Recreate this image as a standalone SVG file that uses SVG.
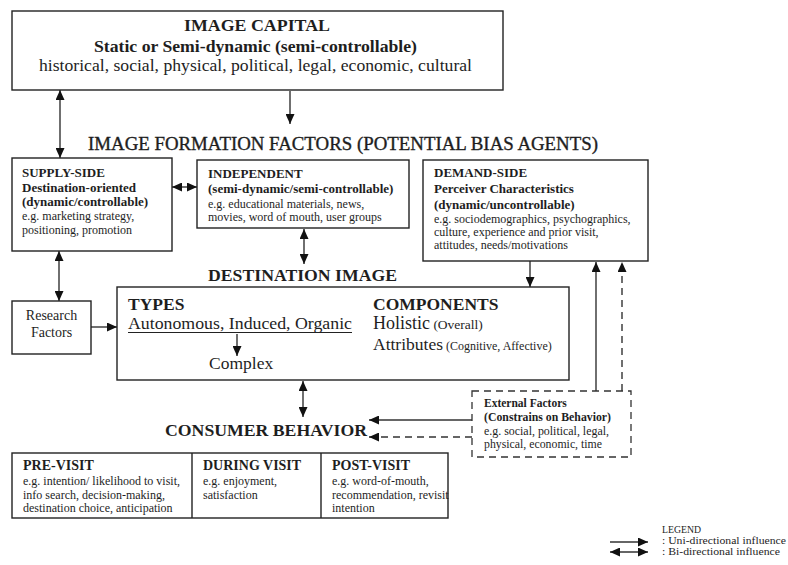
<svg xmlns="http://www.w3.org/2000/svg" width="788" height="565" viewBox="0 0 788 565">
<style>
  text { font-family: "Liberation Serif", "Times New Roman", serif; fill: #1e1e1e; }
  .box { fill: none; stroke: #222; stroke-width: 1.4; }
  .dbox { fill: none; stroke: #333; stroke-width: 1.3; stroke-dasharray: 7 5; }
  .ln { fill: none; stroke: #333; stroke-width: 1.4; }
  .dash { stroke-dasharray: 7 5; }
  .uni { marker-end: url(#ah); }
  .bi { marker-start: url(#ah); marker-end: url(#ah); }
  .b { font-weight: bold; }
  .h13 { font-size: 13px; font-weight: bold; }
  .t12 { font-size: 12px; }
  .h11 { font-size: 11.5px; font-weight: bold; }
  .t11 { font-size: 11.5px; }
  .h14 { font-size: 14px; font-weight: bold; }
  .big { font-size: 17.5px; }
  .lg { font-size: 10px; }
</style>
<defs>
  <marker id="ah" viewBox="0 0 10 9" refX="10" refY="4.5" markerWidth="10" markerHeight="9" markerUnits="userSpaceOnUse" orient="auto-start-reverse">
    <path d="M0,0 L10,4.5 L0,9 z" fill="#111"/>
  </marker>
</defs>
<rect width="788" height="565" fill="#fff"/>

<g id="connectors">
  <line class="ln bi" x1="60" y1="90" x2="60" y2="158"/>
  <line class="ln uni" x1="290" y1="91" x2="290" y2="124"/>
  <line class="ln bi" x1="172" y1="187" x2="197" y2="187"/>
  <line class="ln bi" x1="304" y1="229" x2="304" y2="264"/>
  <line class="ln bi" x1="59" y1="251" x2="59" y2="301"/>
  <line class="ln uni" x1="91" y1="327" x2="117" y2="327"/>
  <line class="ln uni" x1="530" y1="261" x2="530" y2="287"/>
  <line class="ln uni" x1="596" y1="391" x2="596" y2="262"/>
  <line class="ln dash uni" x1="622" y1="391" x2="622" y2="262"/>
  <line class="ln uni" x1="237" y1="334" x2="237" y2="356"/>
  <line class="ln bi" x1="303" y1="381" x2="303" y2="417"/>
  <line class="ln uni" x1="472" y1="420" x2="369" y2="420"/>
  <line class="ln dash uni" x1="472" y1="437" x2="369" y2="437"/>
</g>

<g id="image-capital">
  <rect class="box" x="12" y="11" width="491" height="79"/>
  <text class="b" x="257" y="31" font-size="17" text-anchor="middle" textLength="146" lengthAdjust="spacingAndGlyphs">IMAGE CAPITAL</text>
  <text class="b" x="255.5" y="52" font-size="17" text-anchor="middle" textLength="323" lengthAdjust="spacingAndGlyphs">Static or Semi-dynamic (semi-controllable)</text>
  <text x="255.5" y="71" font-size="17.5" text-anchor="middle" textLength="433" lengthAdjust="spacingAndGlyphs">historical, social, physical, political, legal, economic, cultural</text>
</g>

<g id="image-formation-title">
  <text x="88" y="150" font-size="19" stroke="#1e1e1e" stroke-width="0.35" textLength="510" lengthAdjust="spacingAndGlyphs">IMAGE FORMATION FACTORS (POTENTIAL BIAS AGENTS)</text>
</g>

<g id="supply-side">
  <rect class="box" x="12" y="158" width="160" height="93"/>
  <text class="h13" x="22" y="177">SUPPLY-SIDE</text>
  <text class="h13" x="22" y="192">Destination-oriented</text>
  <text class="h13" x="22" y="206">(dynamic/controllable)</text>
  <text class="t12" x="22" y="220">e.g. marketing strategy,</text>
  <text class="t12" x="22" y="234">positioning, promotion</text>
</g>

<g id="independent">
  <rect class="box" x="197" y="160" width="212" height="68"/>
  <text class="h13" x="208" y="178">INDEPENDENT</text>
  <text class="h13" x="208" y="193">(semi-dynamic/semi-controllable)</text>
  <text class="t12" x="208" y="208">e.g. educational materials, news,</text>
  <text class="t12" x="208" y="221">movies, word of mouth, user groups</text>
</g>

<g id="demand-side">
  <rect class="box" x="423" y="160" width="225" height="101"/>
  <text class="h13" x="434" y="177">DEMAND-SIDE</text>
  <text class="h13" x="434" y="193">Perceiver Characteristics</text>
  <text class="h13" x="434" y="209">(dynamic/uncontrollable)</text>
  <text class="t12" x="434" y="223">e.g. sociodemographics, psychographics,</text>
  <text class="t12" x="434" y="236">culture, experience and prior visit,</text>
  <text class="t12" x="434" y="249">attitudes, needs/motivations</text>
</g>

<g id="research-factors">
  <rect class="box" x="12" y="301" width="79" height="53"/>
  <text x="51.5" y="320" font-size="14" text-anchor="middle">Research</text>
  <text x="51.5" y="337" font-size="14" text-anchor="middle">Factors</text>
</g>

<g id="destination-image">
  <text class="b" x="208" y="281" font-size="16.5" textLength="189" lengthAdjust="spacingAndGlyphs">DESTINATION IMAGE</text>
  <rect class="box" x="117" y="287" width="452" height="93"/>
  <text class="b big" x="128" y="310">TYPES</text>
  <text class="big" x="128" y="329" textLength="224" lengthAdjust="spacingAndGlyphs">Autonomous, Induced, Organic</text>
  <line x1="128" y1="332.5" x2="352" y2="332.5" stroke="#222" stroke-width="1.1"/>
  <text class="big" x="209" y="369">Complex</text>
  <text class="b big" x="373" y="310">COMPONENTS</text>
  <text x="373" y="329"><tspan font-size="18">Holistic</tspan><tspan font-size="13.5"> (Overall)</tspan></text>
  <text x="373" y="350"><tspan font-size="17.5">Attributes</tspan><tspan font-size="12"> (Cognitive, Affective)</tspan></text>
</g>

<g id="external-factors">
  <rect class="dbox" x="472" y="391" width="159" height="66"/>
  <text class="h11" x="484" y="407">External Factors</text>
  <text class="h11" x="484" y="421" textLength="127" lengthAdjust="spacingAndGlyphs">(Constrains on Behavior)</text>
  <text class="t11" x="484" y="435" textLength="125" lengthAdjust="spacingAndGlyphs">e.g. social, political,  legal,</text>
  <text class="t11" x="484" y="448" textLength="118" lengthAdjust="spacingAndGlyphs">physical, economic, time</text>
</g>

<g id="consumer-behavior">
  <text class="b" x="165" y="436" font-size="17.5" textLength="202" lengthAdjust="spacingAndGlyphs">CONSUMER BEHAVIOR</text>
  <rect class="box" x="12" y="453" width="436" height="65"/>
  <line x1="192" y1="453" x2="192" y2="518" stroke="#222" stroke-width="1.4"/>
  <line x1="321" y1="453" x2="321" y2="518" stroke="#222" stroke-width="1.4"/>
</g>

<g id="pre-visit">
  <text class="h14" x="23" y="470">PRE-VISIT</text>
  <text class="t12" x="23" y="485">e.g. intention/ likelihood  to visit,</text>
  <text class="t12" x="23" y="498.5">info search, decision-making,</text>
  <text class="t12" x="23" y="512">destination choice, anticipation</text>
</g>

<g id="during-visit">
  <text class="h14" x="203" y="470">DURING VISIT</text>
  <text class="t12" x="203" y="485">e.g. enjoyment,</text>
  <text class="t12" x="203" y="498.5">satisfaction</text>
</g>

<g id="post-visit">
  <text class="h14" x="332" y="470">POST-VISIT</text>
  <text class="t12" x="332" y="485">e.g. word-of-mouth,</text>
  <text class="t12" x="332" y="498.5">recommendation, revisit</text>
  <text class="t12" x="332" y="512">intention</text>
</g>

<g id="legend">
  <text class="lg" x="662" y="533" textLength="39" lengthAdjust="spacingAndGlyphs">LEGEND</text>
  <line class="ln uni" x1="610" y1="542" x2="648" y2="542"/>
  <text class="lg" x="662" y="544" textLength="124" lengthAdjust="spacingAndGlyphs">: Uni-directional influence</text>
  <line class="ln bi" x1="610" y1="552" x2="648" y2="552"/>
  <text class="lg" x="662" y="555" textLength="118" lengthAdjust="spacingAndGlyphs">: Bi-directional influence</text>
</g>
</svg>
